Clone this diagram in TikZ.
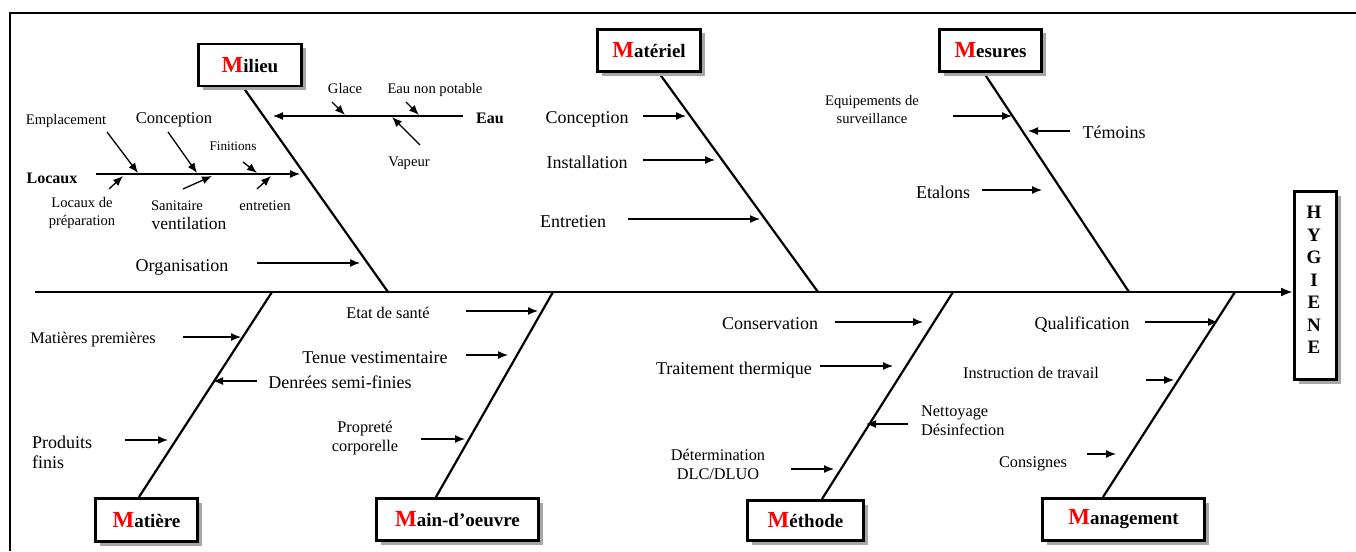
\documentclass[tikz,border=0pt]{standalone}
\usepackage{fontspec}
\setmainfont{Liberation Serif}
\usetikzlibrary{arrows.meta,shadows}
\newcommand\bigMlab[2]{\textbf{\textcolor{red}{\fontsize{23}{23}\selectfont #1}\fontsize{19}{23}\selectfont #2}}
\begin{document}
\begin{tikzpicture}[x=1pt,y=-1pt,
  mbox/.style={draw,line width=2.8pt,fill=white,inner sep=0pt,
     drop shadow={shadow xshift=4pt,shadow yshift=-4pt,fill=black!35,opacity=1}},
  lab/.style={inner sep=0pt,text height=0.7em,text depth=0.2em,yshift=-3.5pt},
  mlab/.style={inner sep=0pt},
  fa/.style={lab,font=\fontsize{14.6}{18}\selectfont},
  fb/.style={lab,font=\fontsize{16.3}{19}\selectfont},
  fc/.style={lab,font=\fontsize{18}{20}\selectfont},
  fam/.style={mlab,font=\fontsize{14.6}{18}\selectfont},
  fbm/.style={mlab,font=\fontsize{16.3}{19}\selectfont},
  fcm/.style={mlab,font=\fontsize{18}{20}\selectfont},
  fbold/.style={lab,font=\bfseries\fontsize{16}{18}\selectfont},
  bone/.style={line width=2.2pt},
  spine/.style={line width=2.8pt,-{Latex[length=12pt,width=9pt]}},
  sarr/.style={line width=1.3pt,-{Latex[length=10pt,width=8pt]}},
  frame/.style={line width=2pt}]
\useasboundingbox (0,0) rectangle (1356,551);
% frame
\coordinate (fTL) at (10,13); \coordinate (fTR) at (1356,13); \coordinate (fBL) at (10,551);
\draw[frame] (fBL) -- (fTL) -- (fTR);
% spine
\coordinate (spS) at (35,292);
% bones
\coordinate (bMilA) at (243,87);  \coordinate (bMilB) at (388,292);
\coordinate (bMatA) at (659,73);  \coordinate (bMatB) at (818,292);
\coordinate (bMesA) at (984,73);  \coordinate (bMesB) at (1129,292);
\coordinate (bMtiA) at (139,497); \coordinate (bMtiB) at (272,292);
\coordinate (bMaiA) at (436,497); \coordinate (bMaiB) at (553,292);
\coordinate (bMetA) at (822,499); \coordinate (bMetB) at (953,292);
\coordinate (bManA) at (1103,497);\coordinate (bManB) at (1235,292);
\draw[bone] (bMilA) -- (bMilB);
\draw[bone] (bMatA) -- (bMatB);
\draw[bone] (bMesA) -- (bMesB);
\draw[bone] (bMtiA) -- (bMtiB);
\draw[bone] (bMaiA) -- (bMaiB);
\draw[bone] (bMetA) -- (bMetB);
\draw[bone] (bManA) -- (bManB);
% category boxes
\node[mbox,minimum width=103pt,minimum height=42pt] (mil) at (250,65) {\bigMlab{M}{ilieu}};
\node[mbox,minimum width=103pt,minimum height=42pt] (mat) at (649,50.5) {\bigMlab{M}{atériel}};
\node[mbox,minimum width=102pt,minimum height=42pt] (mes) at (990.5,50.5) {\bigMlab{M}{esures}};
\node[mbox,minimum width=102pt,minimum height=43pt] (mti) at (146.5,520) {\bigMlab{M}{atière}};
\node[mbox,minimum width=162pt,minimum height=42pt] (mai) at (457.5,519.5) {\bigMlab{M}{ain-d’oeuvre}};
\node[mbox,minimum width=116pt,minimum height=40pt] (met) at (805.5,520.5) {\bigMlab{M}{éthode}};
\node[mbox,minimum width=162pt,minimum height=42pt] (man) at (1123.5,519.5) {\bigMlab{M}{anagement}};
\node[mbox,minimum width=42pt,minimum height=188pt] (hyg) at (1315.5,285.5) {};
\node[inner sep=0pt,align=center,font=\bfseries\fontsize{19}{22.5}\selectfont] (hygt) at (1314,280) {H\\Y\\G\\I\\E\\N\\E};
\draw[spine] (spS) -- (hyg.west |- spS);

% ---------- Milieu ----------
\node[fa] (emp) at (66,118) {Emplacement};
\node[lab,font=\fontsize{16.5}{19}\selectfont] (conc1) at (174,117) {Conception};
\node[lab,font=\fontsize{13.2}{16}\selectfont] (fin) at (233,144) {Finitions};
\node[fbold] (loc) at (52,177) {Locaux};
\node[fam,align=center] (locp) at (82,213) {Locaux de\\préparation};
\node[fa] (san) at (177,204) {Sanitaire};
\node[lab,font=\fontsize{17.5}{19}\selectfont] (ven) at (189,223) {ventilation};
\node[fa] (ent1) at (265,204) {entretien};
\node[fc] (org) at (182,265) {Organisation};
\node[fa] (gla) at (345,87) {Glace};
\node[fa] (enp) at (435,87) {Eau non potable};
\node[fa] (vap) at (409,160) {Vapeur};
\node[fbold] (eau) at (490,117) {Eau};
\coordinate (a1) at (107,132); \coordinate (b1) at (138,173); \draw[sarr] (a1) -- (b1);
\coordinate (a2) at (168,132); \coordinate (b2) at (197,173); \draw[sarr] (a2) -- (b2);
\coordinate (a3) at (243,162); \coordinate (b3) at (257,173); \draw[sarr] (a3) -- (b3);
\coordinate (a4) at (109,189); \coordinate (b4) at (123,176); \draw[sarr] (a4) -- (b4);
\coordinate (a5) at (183,189); \coordinate (b5) at (212,176); \draw[sarr] (a5) -- (b5);
\coordinate (a6) at (257,189); \coordinate (b6) at (271,176); \draw[sarr] (a6) -- (b6);
\coordinate (a7) at (96,174);  \coordinate (b7) at (300,174); \draw[sarr] (a7) -- (b7);
\coordinate (a8) at (257,263); \coordinate (b8) at (360,263); \draw[sarr] (a8) -- (b8);
\coordinate (a9) at (463,116); \coordinate (b9) at (273,116); \draw[sarr] (a9) -- (b9);
\coordinate (a10) at (332,102); \coordinate (b10) at (345,115); \draw[sarr] (a10) -- (b10);
\coordinate (a11) at (406,102); \coordinate (b11) at (419,115); \draw[sarr] (a11) -- (b11);
\coordinate (a12) at (420,145); \coordinate (b12) at (392,117); \draw[sarr] (a12) -- (b12);

% ---------- Matériel ----------
\node[fc] (conc2) at (587,117) {Conception};
\node[fc] (ins) at (587,162) {Installation};
\node[fc] (ent2) at (573,221) {Entretien};
\coordinate (a13) at (643,116); \coordinate (b13) at (686,116); \draw[sarr] (a13) -- (b13);
\coordinate (a14) at (643,160); \coordinate (b14) at (715,160); \draw[sarr] (a14) -- (b14);
\coordinate (a15) at (628,219); \coordinate (b15) at (760,219); \draw[sarr] (a15) -- (b15);

% ---------- Mesures ----------
\node[fam,align=center] (equ) at (872,110) {Equipements de\\surveillance};
\node[fc] (tem) at (1114,132) {Témoins};
\node[fc] (eta) at (943,192) {Etalons};
\coordinate (a16) at (953,116); \coordinate (b16) at (1012,116); \draw[sarr] (a16) -- (b16);
\coordinate (a17) at (1070,131); \coordinate (b17) at (1028,131); \draw[sarr] (a17) -- (b17);
\coordinate (a18) at (982,190); \coordinate (b18) at (1042,190); \draw[sarr] (a18) -- (b18);

% ---------- Matière ----------
\node[fb] (mp) at (93,337) {Matières premières};
\node[fc] (dsf) at (340,382) {Denrées semi-finies};
\node[fcm,align=left,anchor=west] (pf) at (32,452) {Produits\\finis};
\coordinate (a19) at (183,337); \coordinate (b19) at (241,337); \draw[sarr] (a19) -- (b19);
\coordinate (a20) at (257,381); \coordinate (b20) at (213,381); \draw[sarr] (a20) -- (b20);
\coordinate (a21) at (125,440); \coordinate (b21) at (168,440); \draw[sarr] (a21) -- (b21);

% ---------- Main-d'oeuvre ----------
\node[fb] (eds) at (388,312) {Etat de santé};
\node[fc] (tv) at (375,357) {Tenue vestimentaire};
\node[fbm,align=center] (pc) at (365,438) {Propreté\\corporelle};
\coordinate (a22) at (466,311); \coordinate (b22) at (538,311); \draw[sarr] (a22) -- (b22);
\coordinate (a23) at (466,355); \coordinate (b23) at (508,355); \draw[sarr] (a23) -- (b23);
\coordinate (a24) at (421,439); \coordinate (b24) at (465,439); \draw[sarr] (a24) -- (b24);

% ---------- Méthode ----------
\node[fc] (cons) at (770,323) {Conservation};
\node[fc] (tt) at (734,368) {Traitement thermique};
\node[fbm,align=left,anchor=west] (nd) at (921,420.5) {Nettoyage\\Désinfection};
\node[fbm,align=center] (det) at (718,464.5) {Détermination\\DLC/DLUO};
\coordinate (a25) at (835,322); \coordinate (b25) at (923,322); \draw[sarr] (a25) -- (b25);
\coordinate (a26) at (820,366); \coordinate (b26) at (893,366); \draw[sarr] (a26) -- (b26);
\coordinate (a27) at (908,424); \coordinate (b27) at (866,424); \draw[sarr] (a27) -- (b27);
\coordinate (a28) at (791,469); \coordinate (b28) at (834,469); \draw[sarr] (a28) -- (b28);

% ---------- Management ----------
\node[fc] (qua) at (1082,323) {Qualification};
\node[fb] (idt) at (1031,372) {Instruction de travail};
\node[fb] (csg) at (1033,461) {Consignes};
\coordinate (a29) at (1145,322); \coordinate (b29) at (1218,322); \draw[sarr] (a29) -- (b29);
\coordinate (a30) at (1146,380); \coordinate (b30) at (1174,380); \draw[sarr] (a30) -- (b30);
\coordinate (a31) at (1087,454); \coordinate (b31) at (1116,454); \draw[sarr] (a31) -- (b31);
\end{tikzpicture}
\end{document}
